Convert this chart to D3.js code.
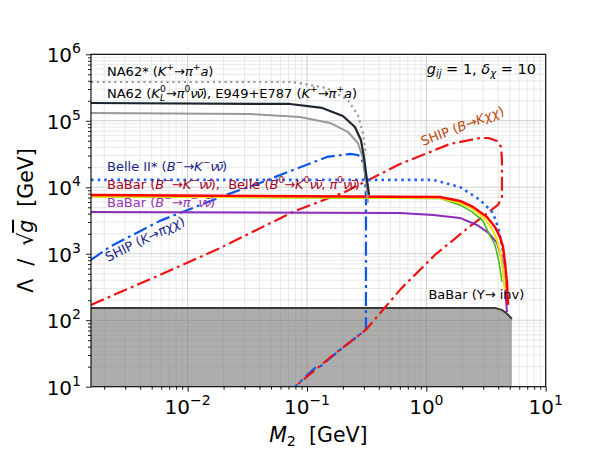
<!DOCTYPE html>
<html>
<head>
<meta charset="utf-8">
<script src="https://cdn.jsdelivr.net/npm/d3@7"></script>
<style>
  body { margin: 0; background: #fff; }
  text { font-family: "DejaVu Sans", sans-serif; white-space: pre; }
</style>
</head>
<body>
<svg id="chart" width="607" height="455"></svg>
<script>
// M2 in GeV, Lambda/sqrt(g) in GeV
const na62StarM = [0.00155, 0.0764, 0.147, 0.220, 0.267, 0.294, 0.312];
const na62StarL = [3.83e5, 3.83e5, 3.11e5, 2.06e5, 1.22e5, 6.56e4, 3.06e4];

const na62KLM = [0.00155, 0.0721, 0.134, 0.200, 0.252, 0.283, 0.300, 0.318, 0.331];
const na62KLL = [1.85e5, 1.79e5, 1.56e5, 1.18e5, 8.07e4, 5.14e4, 2.86e4, 1.29e4, 7.66e3];

const e949M = [0.00155, 0.0333, 0.0873, 0.156, 0.220, 0.267, 0.294, 0.312, 0.324];
const e949L = [1.31e5, 1.26e5, 1.14e5, 9.27e4, 6.79e4, 4.63e4, 2.76e4, 1.29e4, 5.81e3];

const belle2M = [0.00155, 1.14, 1.91, 2.82, 3.62, 3.98, 4.30, 4.56];
const belle2L = [1.29e4, 1.29e4, 1.01e4, 6.44e3, 4.11e3, 2.53e3, 1.36e3, 679];

const babarKM = [0.00155, 1.30, 1.91, 2.46, 3.22, 3.76, 4.14, 4.39, 4.56, 4.74, 4.83];
const babarKL = [7.66e3, 7.15e3, 6.22e3, 5.06e3, 3.58e3, 2.53e3, 1.79e3, 1.27e3, 727, 364, 170];

const belleKM = [0.00155, 1.30, 1.91, 2.46, 3.10, 3.55, 3.91, 4.14, 4.39, 4.56];
const belleKL = [7.25e3, 6.91e3, 5.81e3, 4.72e3, 3.34e3, 2.36e3, 1.61e3, 1.07e3, 571, 286];

const bellePiM = [0.00155, 1.30, 1.91, 2.42, 2.98, 3.32, 3.76, 4.06, 4.30];
const bellePiL = [7.25e3, 6.80e3, 5.42e3, 4.26e3, 3.12e3, 2.06e3, 1.36e3, 753, 377];

const babarPiM = [0.00155, 0.601, 1.14, 1.91, 2.66, 3.32, 3.91, 4.30, 4.56, 4.74];
const babarPiL = [4.26e3, 4.11e3, 3.84e3, 3.46e3, 2.71e3, 2.06e3, 1.46e3, 807, 317, 133];

const upsilonM = [0.00155, 3.76, 4.30, 4.65, 5.21];
const upsilonL = [153, 153, 143, 129, 105];

const shipKM = [0.00155, 0.00223, 0.00310, 0.00586, 0.01107, 0.0209, 0.0403, 0.0764, 0.147,
  0.229, 0.267, 0.289, 0.306, 0.312, 0.312, 0.189, 0.128, 0.117, 0.0793];
const shipKL = [807, 1.27e3, 1.73e3, 3.12e3, 4.89e3, 7.66e3, 1.16e4, 1.82e4, 2.86e4,
  3.17e4, 3.06e4, 2.58e4, 1.70e4, 6.44e3, 72, 35.8, 19.9, 19.2, 10];

const shipBM = [0.00155, 0.00587, 0.0187, 0.0764, 0.208, 0.601, 1.58, 2.82, 3.32, 3.91, 4.22,
  4.30, 4.30, 3.98, 2.23, 1.18, 0.612, 0.312, 0.156, 0.0793];
const shipBL = [170, 480, 1.22e3, 4.26e3, 8.49e3, 2.24e4, 4.48e4, 5.51e4, 5.51e4, 4.97e4, 4.04e4,
  2.58e4, 7.15e3, 5.42e3, 2.44e3, 959, 296, 72, 27.5, 10];

const xMajor = [0.01, 0.1, 1, 10];
const xExp = ["−2", "−1", "0", "1"];
const yMajor = [10, 100, 1e3, 1e4, 1e5, 1e6];
const yExp = ["1", "2", "3", "4", "5", "6"];

const margin = { top: 54.3, left: 91, right: 61.3, bottom: 68.3 };
const width = 607 - margin.left - margin.right;
const height = 455 - margin.top - margin.bottom;

const svg = d3.select("#chart");
const chart = svg.append("g").attr("transform", `translate(${margin.left},${margin.top})`);

const x = d3.scaleLog().domain([0.00155, 10]).range([0, width]);
const y = d3.scaleLog().domain([10, 1e6]).range([height, 0]);

// minor tick positions 2..9 x 10^k inside the domain
const minorsOf = (scale, lo, hi) => {
  const out = [];
  for (let k = lo; k <= hi; k++)
    for (let m = 2; m <= 9; m++) {
      const v = m * Math.pow(10, k);
      const d = scale.domain();
      if (v > d[0] && v < d[1]) out.push(v);
    }
  return out;
};
const xMinor = minorsOf(x, -3, 0);
const yMinor = minorsOf(y, 1, 5);

// grid
const grid = chart.append("g");
grid.selectAll(".gxm").data(xMinor).join("line")
  .attr("x1", d => x(d)).attr("x2", d => x(d)).attr("y1", 0).attr("y2", height)
  .attr("stroke", "#e3e3e3").attr("stroke-width", 0.8);
grid.selectAll(".gym").data(yMinor).join("line")
  .attr("y1", d => y(d)).attr("y2", d => y(d)).attr("x1", 0).attr("x2", width)
  .attr("stroke", "#e3e3e3").attr("stroke-width", 0.8);
grid.selectAll(".gxM").data(xMajor).join("line")
  .attr("x1", d => x(d)).attr("x2", d => x(d)).attr("y1", 0).attr("y2", height)
  .attr("stroke", "#cfcfcf").attr("stroke-width", 1);
grid.selectAll(".gyM").data(yMajor).join("line")
  .attr("y1", d => y(d)).attr("y2", d => y(d)).attr("x1", 0).attr("x2", width)
  .attr("stroke", "#cfcfcf").attr("stroke-width", 1);

svg.append("clipPath").attr("id", "clip")
  .append("rect").attr("width", width).attr("height", height);
const plot = chart.append("g").attr("clip-path", "url(#clip)");

const pts = (m, l) => m.map((v, i) => [v, l[i]]);
const line = d3.line().x(d => x(d[0])).y(d => y(d[1]));

// BaBar Upsilon -> invisible excluded region
const ups = pts(upsilonM, upsilonL);
const area = d3.area().x(d => x(d[0])).y0(height).y1(d => y(d[1]));
plot.append("path").datum(ups).attr("d", area)
  .attr("fill", "#7b7d79").attr("fill-opacity", 0.62);
plot.append("path").datum(ups).attr("d", line)
  .attr("fill", "none").attr("stroke", "#3a3a3a").attr("stroke-width", 2);

const dashDot = "14,4.2,2.8,4.2";
const curves = [
  { m: shipKM, l: shipKL, c: "#0b57ec", w: 2.2, dash: dashDot },
  { m: shipBM, l: shipBL, c: "#ee1414", w: 2.2, dash: dashDot },
  { m: babarPiM, l: babarPiL, c: "#8a2db8", w: 2 },
  { m: belle2M, l: belle2L, c: "#2562ee", w: 2.6, dash: "2.6,4" },
  { m: bellePiM, l: bellePiL, c: "#3cbc1c", w: 1.5 },
  { m: belleKM, l: belleKL, c: "#f2e600", w: 2 },
  { m: babarKM, l: babarKL, c: "#ff0000", w: 2.5 },
  { m: na62StarM, l: na62StarL, c: "#9a9a9a", w: 2.2, dash: "2.2,3.6" },
  { m: e949M, l: e949L, c: "#999999", w: 2 },
  { m: na62KLM, l: na62KLL, c: "#1b2530", w: 2.2 },
];
curves.forEach(s => {
  plot.append("path").datum(pts(s.m, s.l)).attr("d", line)
    .attr("fill", "none").attr("stroke", s.c).attr("stroke-width", s.w)
    .attr("stroke-linejoin", "round")
    .attr("stroke-dasharray", s.dash || null);
});

// axes
const xAxisG = chart.append("g").attr("transform", `translate(0,${height})`);
xAxisG.call(d3.axisBottom(x).tickValues(xMajor).tickSize(5).tickFormat(""));
xAxisG.append("g").call(d3.axisBottom(x).tickValues(xMinor).tickSize(3).tickFormat(""));
const yAxisG = chart.append("g");
yAxisG.call(d3.axisLeft(y).tickValues(yMajor).tickSize(5).tickFormat(""));
yAxisG.append("g").call(d3.axisLeft(y).tickValues(yMinor).tickSize(3).tickFormat(""));
chart.selectAll(".domain").remove();
chart.selectAll(".tick line").attr("stroke", "#000").attr("stroke-width", 0.9);
chart.append("rect").attr("width", width).attr("height", height)
  .attr("fill", "none").attr("stroke", "#000").attr("stroke-width", 1.1);

// mathtext-like rich text: parts = [text, kind, dx]
function rich(g, parts, size) {
  const t = g.append("text").attr("font-size", size);
  let shift = 0;
  parts.forEach(([s, k, dx]) => {
    k = k || "";
    let target = 0;
    if (k.includes("sup")) target = -0.45 * size;
    if (k.includes("sub")) target = 0.2 * size;
    const ts = t.append("tspan").attr("dy", target - shift).text(s);
    shift = target;
    if (k.includes("sup") || k.includes("sub")) ts.attr("font-size", size * 0.7);
    if (k.startsWith("i")) ts.attr("font-style", "italic");
    if (k.includes("bar")) ts.style("text-decoration", "overline");
    if (k.includes("tight")) ts.attr("letter-spacing", -1.4);
    if (dx) ts.attr("dx", dx);
  });
  return t;
}

xMajor.forEach((v, i) => {
  rich(chart, [["10"], [xExp[i], "sup"]], 20)
    .attr("text-anchor", "middle").attr("x", x(v)).attr("y", height + 27);
});
yMajor.forEach((v, i) => {
  rich(chart, [["10"], [yExp[i], "sup"]], 20)
    .attr("text-anchor", "end").attr("x", -10).attr("y", y(v) + 8);
});

rich(svg, [["M", "i"], ["2", "sub"], ["  [GeV]"]], 20.5)
  .attr("text-anchor", "middle").attr("x", margin.left + width / 2).attr("y", 442);
rich(svg, [["Λ  /  √"], ["g", "ibar"], ["  [GeV]"]], 20.5)
  .attr("text-anchor", "middle")
  .attr("transform", `translate(33,${margin.top + height / 2}) rotate(-90)`);

// annotations
const note = (parts, m, l, color, size, rot) => {
  const t = rich(chart, parts, size || 13).attr("fill", color || "#000");
  t.attr("transform", `translate(${x(m)},${y(l)}) rotate(${rot || 0})`);
  return t;
};
const nunu = ["νν̄", "itight"];
note([["NA62* ("], ["K", "i"], ["+", "sup"], ["→"], ["π", "i"], ["+", "sup"], ["a", "i"], [")"]],
  0.00211, 4.72e5);
note([["NA62 ("], ["K", "i"], ["L", "isub"], ["0", "sup", -5], ["→"], ["π", "i"], ["0", "sup"], nunu,
  ["), E949+E787 ("], ["K", "i"], ["+", "sup"], ["→"], ["π", "i"], ["+", "sup"], ["a", "i"], [")"]],
  0.00211, 2.20e5);
rich(chart, [["g", "i"], ["ij", "isub"], [" = 1, "], ["δ", "i"], ["χ", "isub"], [" = 10"]], 14.5)
  .attr("text-anchor", "end").attr("x", x(8.3)).attr("y", y(5.06e5));
note([["Belle II* ("], ["B", "i"], ["−", "sup"], ["→"], ["K", "i"], ["−", "sup"], nunu, [")"]],
  0.00211, 1.76e4, "#1c1f86");
note([["BaBar ("], ["B", "i"], ["−", "sup"], ["→"], ["K", "i"], ["−", "sup"], nunu, ["),  Belle ("],
  ["B", "i"], ["0", "sup"], ["→"], ["K", "i"], ["0", "sup"], nunu, [", "], ["π", "i"], ["0", "sup"], nunu, [")"]],
  0.00211, 9.42e3, "#a8001c");
note([["BaBar ("], ["B", "i"], ["−", "sup"], ["→"], ["π", "i"], ["−", "sup"], nunu, [")"]],
  0.00211, 5.06e3, "#9a34b4");
note([["SHIP ("], ["K", "i"], ["→"], ["πχχ", "i"], [")"]], 0.00215, 753, "#1c2a8c", 13, -26);
note([["SHIP ("], ["B", "i"], ["→"], ["Kχχ", "i"], [")"]], 0.938, 4.18e4, "#c0480e", 13, -21);
note([["BaBar (Υ→ inv)"]], 1.04, 209, "#000");
</script>
</body>
</html>
